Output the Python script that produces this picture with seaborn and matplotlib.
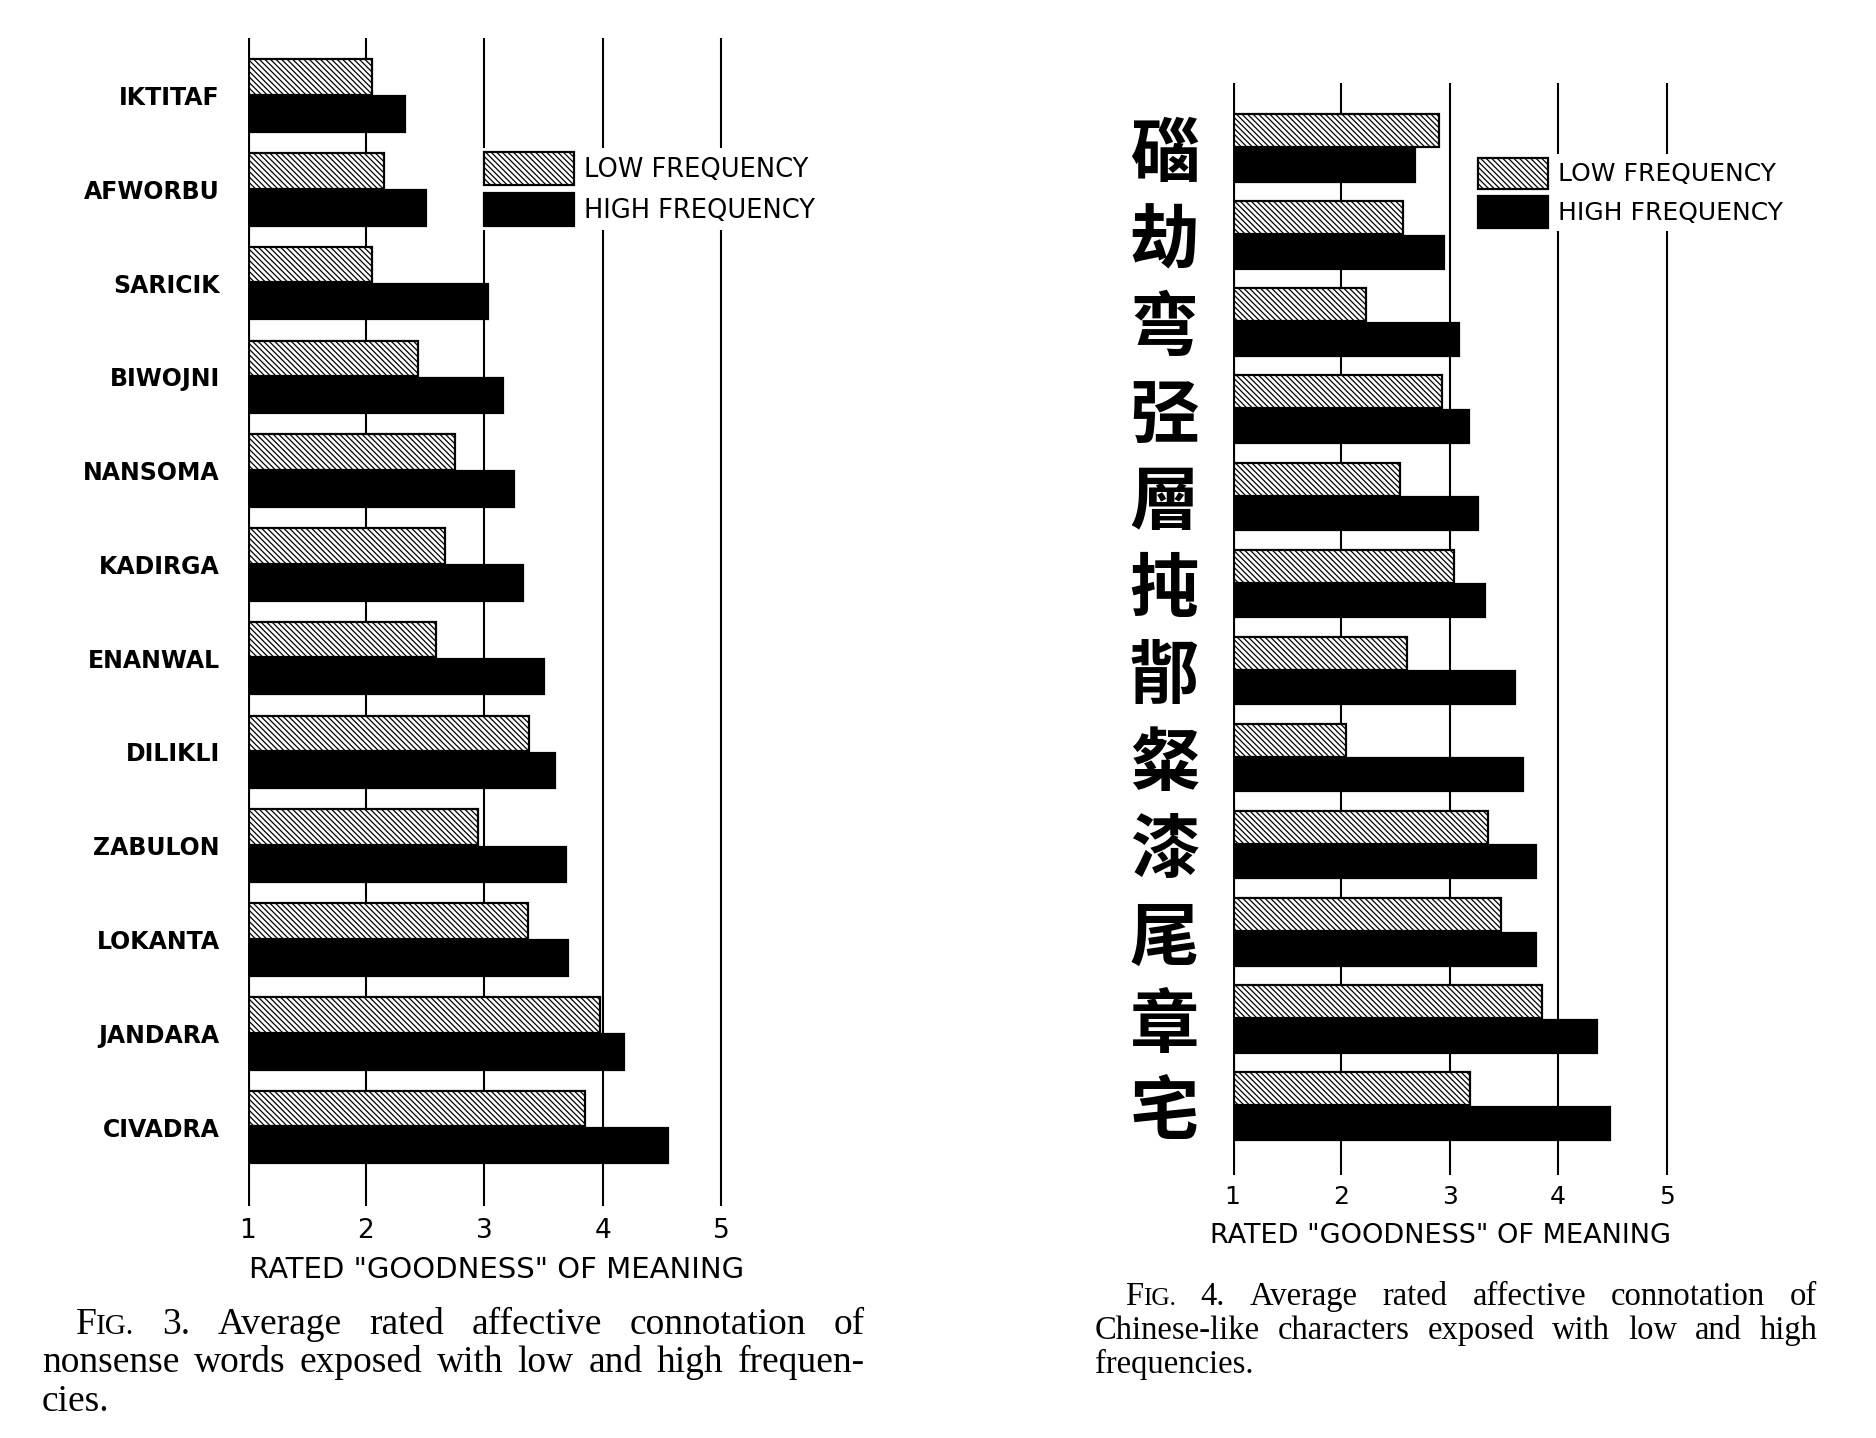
import numpy as np
import pandas as pd
import matplotlib
matplotlib.use("Agg")
import matplotlib.pyplot as plt
import matplotlib.patches as mpatches
import seaborn as sns

# Fig. 3 - nonsense words
words = ["IKTITAF", "AFWORBU", "SARICIK", "BIWOJNI", "NANSOMA", "KADIRGA",
         "ENANWAL", "DILIKLI", "ZABULON", "LOKANTA", "JANDARA", "CIVADRA"]
words_low = [2.05, 2.15, 2.05, 2.44, 2.75, 2.67, 2.59, 3.38, 2.95, 3.37, 3.98, 3.85]
words_high = [2.33, 2.51, 3.03, 3.16, 3.25, 3.33, 3.50, 3.60, 3.69, 3.71, 4.18, 4.55]

# Fig. 4 - Chinese-like characters
chars = ["碯", "劫", "弯", "弪", "層", "扽", "鄁", "粲", "漆", "尾", "章", "宅"]
chars_low = [2.90, 2.57, 2.23, 2.93, 2.54, 3.04, 2.61, 2.05, 3.35, 3.47, 3.85, 3.19]
chars_high = [2.68, 2.95, 3.09, 3.18, 3.26, 3.33, 3.60, 3.68, 3.80, 3.80, 4.36, 4.48]

freq_labels = ["LOW FREQUENCY", "HIGH FREQUENCY"]
scale_ticks = [1, 2, 3, 4, 5]
xlabel = 'RATED "GOODNESS" OF MEANING'

cap3 = ["FIG. 3. Average rated affective connotation of",
        "nonsense words exposed with low and high frequen-",
        "cies."]
cap4 = ["FIG. 4. Average rated affective connotation of",
        "Chinese-like characters exposed with low and high",
        "frequencies."]

sns.set_style("white")
plt.rcParams["font.family"] = ["DejaVu Sans", "Noto Sans CJK SC"]
plt.rcParams["text.color"] = "black"
plt.rcParams["xtick.color"] = "black"
plt.rcParams["ytick.color"] = "black"
plt.rcParams["hatch.linewidth"] = 0.9
HATCH = "\\\\\\\\\\\\"

fig = plt.figure(figsize=(18.76, 14.38), dpi=100)


def panel(rect, labels, low, high, ylim, label_kw, pad, xpad, tick_size):
    ax = fig.add_axes(rect)
    n = len(labels)
    df = pd.DataFrame({
        "item": labels * 2,
        "freq": [freq_labels[0]] * n + [freq_labels[1]] * n,
        "rating": low + high,
    })
    sns.barplot(data=df, x="rating", y="item", hue="freq", orient="h",
                palette=["white", "black"], edgecolor="black", linewidth=1.6,
                width=0.79, gap=0.04, legend=False, ax=ax, zorder=2)
    for p in ax.containers[0]:
        p.set_hatch(HATCH)
    for v in scale_ticks[1:]:
        ax.axvline(v, color="black", lw=1.5, zorder=1)
    ax.axvline(1, color="black", lw=3, zorder=3)
    ax.set_xlim(1, 5.2)
    ax.set_ylim(*ylim)
    ax.set_xticks(scale_ticks)
    ax.set_xticklabels([str(t) for t in scale_ticks], fontsize=tick_size)
    ax.tick_params(axis="x", length=0, pad=xpad)
    ax.tick_params(axis="y", length=0, pad=pad)
    ax.set_yticks(range(n))
    ax.set_yticklabels(labels, **label_kw)
    ax.set_xlabel("")
    ax.set_ylabel("")
    sns.despine(ax=ax, left=True, bottom=True)
    return ax


ax1 = panel([0.132, 0.1614, 0.265, 0.812], words, words_low, words_high,
            (11.84, -0.61), dict(fontsize=17, fontweight="bold"), 20, 9, 19)
ax2 = panel([0.657, 0.183, 0.243, 0.759], chars, chars_low, chars_high,
            (11.79, -0.74),
            dict(fontsize=50, fontweight="heavy", family=["Noto Sans CJK SC"]),
            24, 7, 18)

fig.text(0.2647, 0.117, xlabel, ha="center", va="center", fontsize=21)
fig.text(0.768, 0.1406, xlabel, ha="center", va="center", fontsize=19.5)

handles = [mpatches.Patch(facecolor="white", edgecolor="black", hatch=HATCH, lw=1.6),
           mpatches.Patch(facecolor="black", edgecolor="black", lw=1.6)]
for anchor, hl, hh, fs in [((0.256, 0.897), 3.5, 1.6, 18.5),
                           ((0.786, 0.893), 2.8, 1.55, 18)]:
    fig.legend(handles, freq_labels, loc="upper left", bbox_to_anchor=anchor,
               fontsize=fs, frameon=True, facecolor="white", edgecolor="none",
               framealpha=1, fancybox=False, borderpad=0.15, borderaxespad=0,
               handlelength=hl, handleheight=hh, labelspacing=0.3,
               handletextpad=0.4)

renderer = fig.canvas.get_renderer()


def word_texts(word, y, size):
    # "FIG." is set in small capitals after the initial
    if word == "FIG.":
        return [fig.text(0, y, "F", fontsize=size, family="Liberation Serif",
                         va="baseline"),
                fig.text(0, y, "IG.", fontsize=size * 0.78,
                         family="Liberation Serif", va="baseline")]
    return [fig.text(0, y, word, fontsize=size, family="Liberation Serif",
                     va="baseline")]


def justify(line, x0, x1, y, size, stretch=True):
    groups = [word_texts(w, y, size) for w in line.split(" ")]
    widths = [[t.get_window_extent(renderer).width / fig.bbox.width for t in g]
              for g in groups]
    total = sum(sum(w) for w in widths)
    if stretch and len(groups) > 1:
        gap = (x1 - x0 - total) / (len(groups) - 1)
    else:
        gap = 0.3 * size / 72 * 100 / fig.bbox.width
    x = x0
    for g, ws in zip(groups, widths):
        for t, w in zip(g, ws):
            t.set_x(x)
            x += w
        x += gap


justify(cap3[0], 0.0402, 0.461, 0.0724, 27)
justify(cap3[1], 0.0223, 0.461, 0.0458, 27)
justify(cap3[2], 0.0223, 0.461, 0.0191, 27, stretch=False)
justify(cap4[0], 0.5995, 0.9688, 0.0924, 23.5)
justify(cap4[1], 0.5835, 0.9688, 0.0691, 23.5)
justify(cap4[2], 0.5835, 0.9688, 0.0450, 23.5, stretch=False)

fig.savefig("out.png", dpi=100)
plt.close(fig)
